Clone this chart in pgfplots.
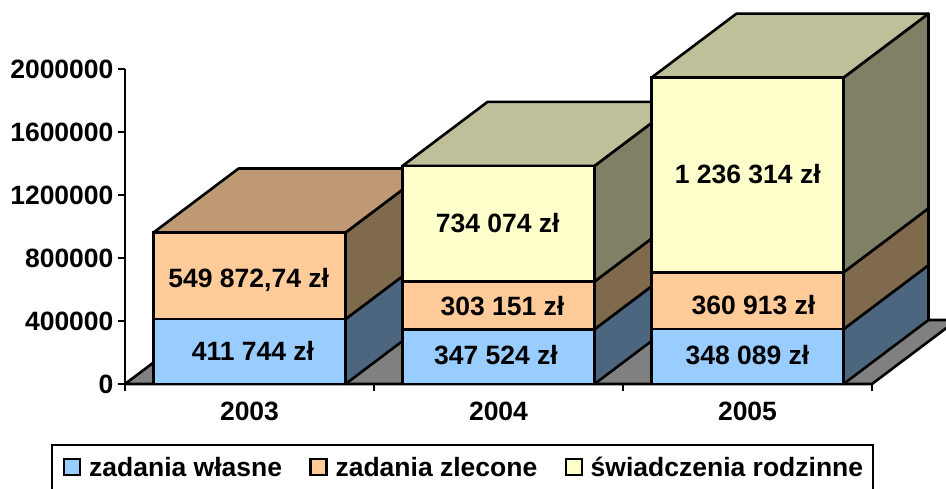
\documentclass[border=0pt]{standalone}
\usepackage{pgfplots}
\usepackage{fontspec}
\setmainfont{Liberation Sans}
\pgfplotsset{compat=1.18}
\definecolor{fb}{HTML}{99CCFF}\definecolor{sb}{HTML}{4D6680}
\definecolor{fo}{HTML}{FFCC99}\definecolor{so}{HTML}{806A4D}\definecolor{to}{HTML}{BF9973}
\definecolor{fy}{HTML}{FFFFCC}\definecolor{sy}{HTML}{808066}\definecolor{ty}{HTML}{BFBF99}
\newcommand{\fnt}{\bfseries\fontsize{26.5}{30}\selectfont}
% depth of the 3D faces: dx = 0.3414 categories, dy = 406350 value units
\pgfplotsset{base/.style={
  scale only axis, width=747pt, height=315pt,
  at={(0pt,0pt)}, anchor=south west,
  xmin=-0.5, xmax=2.5, ymin=0, ymax=2000000, clip=false}}
\newcommand{\face}[9]{% colour, four points
  \addplot[fill=#1,draw=black,line width=2.6pt,line join=round] coordinates {(#2,#3) (#4,#5) (#6,#7) (#8,#9)} --cycle;}
\begin{document}
\begin{tikzpicture}
\path[use as bounding box,clip] (-125pt,-104pt) rectangle (821pt,384pt);
\begin{axis}[base, hide axis]
% floor
\face{gray}{-0.5}{0}{2.5}{0}{2.8414}{406350}{-0.1586}{406350}
% 2003 sides and top
\face{sb}{0.3855}{0}{0.7269}{406350}{0.7269}{818094}{0.3855}{411744}
\face{so}{0.3855}{411744}{0.7269}{818094}{0.7269}{1367967}{0.3855}{961617}
\face{to}{-0.3855}{961617}{0.3855}{961617}{0.7269}{1367967}{-0.0441}{1367967}
% 2004 sides and top
\face{sb}{1.3855}{0}{1.7269}{406350}{1.7269}{753874}{1.3855}{347524}
\face{so}{1.3855}{347524}{1.7269}{753874}{1.7269}{1057025}{1.3855}{650675}
\face{sy}{1.3855}{650675}{1.7269}{1057025}{1.7269}{1791099}{1.3855}{1384749}
\face{ty}{0.6145}{1384749}{1.3855}{1384749}{1.7269}{1791099}{0.9559}{1791099}
% 2005 sides and top
\face{sb}{2.3855}{0}{2.7269}{406350}{2.7269}{754439}{2.3855}{348089}
\face{so}{2.3855}{348089}{2.7269}{754439}{2.7269}{1115352}{2.3855}{709002}
\face{sy}{2.3855}{709002}{2.7269}{1115352}{2.7269}{2351666}{2.3855}{1945316}
\face{ty}{1.6145}{1945316}{2.3855}{1945316}{2.7269}{2351666}{1.9559}{2351666}
\end{axis}
\begin{axis}[base, ybar stacked, bar width=192pt,
  axis lines*=left, axis line style={-,line width=2.6pt},
  tick style={black,line width=2.2pt}, tick align=outside, major tick length=7pt,
  xtick={0,1,2}, xticklabels={2003,2004,2005},
  major x tick style={draw=none},
  minor xtick={-0.5,0.5,1.5,2.5}, minor tick length=7pt,
  minor x tick style={black,line width=2.2pt},
  ytick={0,400000,800000,1200000,1600000,2000000},
  scaled y ticks=false,
  /pgf/number format/fixed, /pgf/number format/1000 sep={},
  /pgf/number format/assume math mode=true,
  tick label style={font=\fnt},
  y tick label style={xshift=-1pt},
  x tick label style={yshift=-7pt},
  legend columns=3,
  legend cell align=left,
  legend image code/.code={\path (0pt,0pt);\draw[#1,line width=2.2pt] (3pt,-8pt) rectangle (19pt,8pt);},
  legend style={at={(-74.3pt,-59.7pt)},anchor=north west,font=\fnt,
    draw=black,line width=2.2pt,inner xsep=8pt,inner ysep=10pt,
    /tikz/every even column/.append style={column sep=22pt},
    /tikz/every odd column/.append style={column sep=6pt}},
]
\addplot+[ybar,fill=fb,draw=black,line width=2.6pt] coordinates {(0,411744) (1,347524) (2,348089)};
\addplot+[ybar,fill=fo,draw=black,line width=2.6pt] coordinates {(0,549872.74) (1,303151) (2,360913)};
\addplot+[ybar,fill=fy,draw=black,line width=2.6pt] coordinates {(0,0) (1,734074) (2,1236314)};
\legend{zadania własne,zadania zlecone,świadczenia rodzinne}
\end{axis}
\begin{axis}[base, hide axis]
\addplot[draw=none,forget plot] coordinates {(0,0) (2,0)};
\tikzset{v/.style={font=\fnt,text height=18pt,text depth=0pt,inner sep=0pt,anchor=center}}
\node[v] at (axis cs:0.014,209500) {411 744 zł};
\node[v] at (axis cs:-0.003,673000) {549 872,74 zł};
\node[v] at (axis cs:0.997,1022000) {734 074 zł};
\node[v] at (axis cs:1.016,491000) {303 151 zł};
\node[v] at (axis cs:0.99,184000) {347 524 zł};
\node[v] at (axis cs:2.001,1327000) {1 236 314 zł};
\node[v] at (axis cs:2.024,497000) {360 913 zł};
\node[v] at (axis cs:2.0,178000) {348 089 zł};
\end{axis}
\end{tikzpicture}
\end{document}
